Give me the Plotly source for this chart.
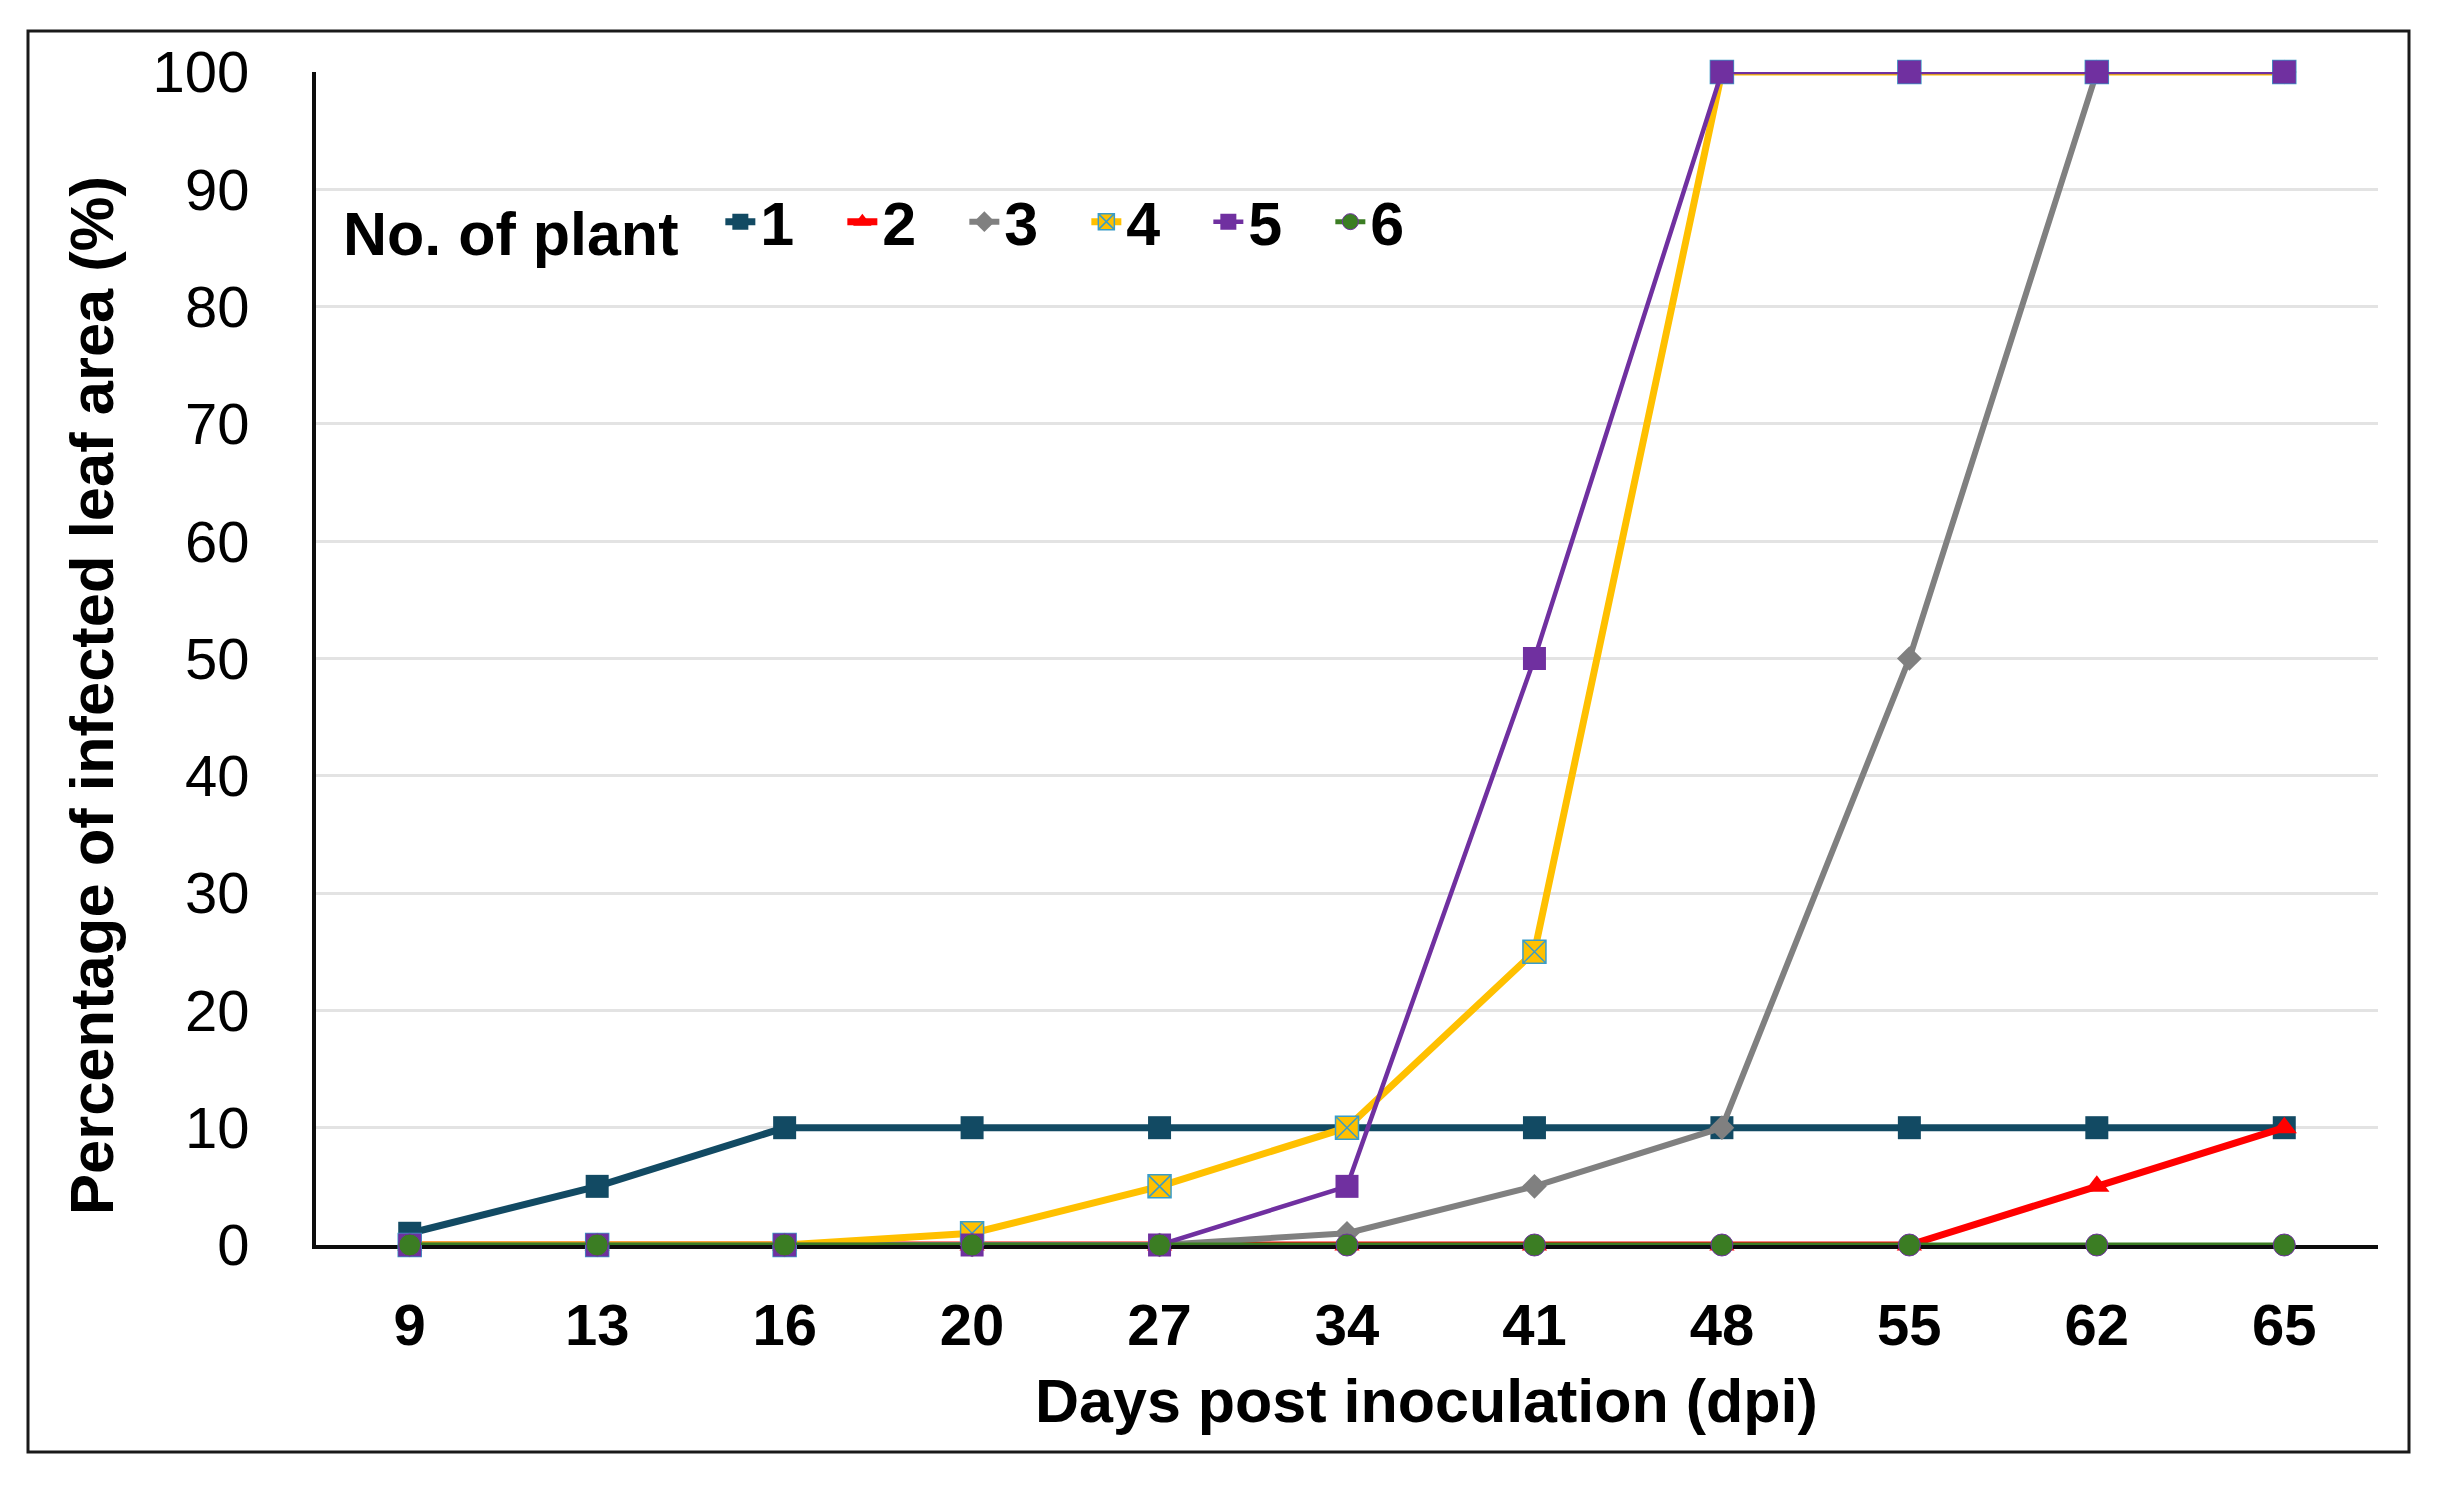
import plotly.graph_objects as go

# ---- data ----
dpi = ["9", "13", "16", "20", "27", "34", "41", "48", "55", "62", "65"]
plant_names = ["1", "2", "3", "4", "5", "6"]
plant1 = [1, 5, 10, 10, 10, 10, 10, 10, 10, 10, 10]
plant2 = [0, 0, 0, 0, 0, 0, 0, 0, 0, 5, 10]
plant3 = [0, 0, 0, 0, 0, 1, 5, 10, 50, 100, 100]
plant4 = [0, 0, 0, 1, 5, 10, 25, 100, 100, 100, 100]
plant5 = [0, 0, 0, 0, 0, 5, 50, 100, 100, 100, 100]
plant6 = [0, 0, 0, 0, 0, 0, 0, 0, 0, 0, 0]
y_ticks = [0, 10, 20, 30, 40, 50, 60, 70, 80, 90, 100]

series = [plant1, plant2, plant3, plant4, plant5, plant6]
styles = [
    dict(color="#124a63", width=7, symbol="square", size=23, mline="#124a63", mlw=0),
    dict(color="#ff0000", width=7, symbol="triangle-up", size=22, mline="#ff0000", mlw=0),
    dict(color="#808080", width=6, symbol="diamond", size=19, mline="#808080", mlw=0),
    dict(color="#ffc000", width=7, symbol="square-x", size=23, mline="#3a9cc8", mlw=1.5),
    dict(color="#7030a0", width=4.5, symbol="square", size=23, mline="#7030a0", mlw=0),
    dict(color="#3b7d23", width=5, symbol="circle", size=22, mline="#7030a0", mlw=1),
]

# page has an 8px body margin; figure coords = page coords - 8
OFF = 8
W, H = 2437 - 2 * OFF, 1499 - 2 * OFF
L, T = 316 - OFF, 72 - OFF
R = W - (2378 - OFF)
B = H - (1245 - OFF)
pw, ph = W - L - R, H - T - B

def px_x(x):
    return (x - OFF - L) / pw

def px_y(y):
    return (H - B - (y - OFF)) / ph

FONT = "Liberation Sans, Arial, sans-serif"

fig = go.Figure()
for name, vals, st in zip(plant_names, series, styles):
    fig.add_trace(go.Scatter(
        x=dpi, y=vals, name=name, mode="lines+markers",
        line=dict(color=st["color"], width=st["width"]),
        marker=dict(symbol=st["symbol"], size=st["size"], color=st["color"],
                    line=dict(color=st["mline"], width=st["mlw"])),
        cliponaxis=False,
    ))

fig.update_layout(
    width=W, height=H,
    margin=dict(l=L, r=R, t=T, b=B),
    paper_bgcolor="white", plot_bgcolor="white",
    font=dict(family=FONT, color="black"),
    showlegend=True,
    legend=dict(
        orientation="h", x=px_x(341), xanchor="left", y=px_y(222), yanchor="middle",
        title=dict(text="No. of plant&nbsp;&nbsp;", side="left",
                   font=dict(family=FONT, size=61, weight="bold", color="black")),
        font=dict(family=FONT, size=61, weight="bold", color="black"),
        bgcolor="rgba(0,0,0,0)", borderwidth=0,
        itemwidth=30, entrywidth=77, entrywidthmode="pixels",
        tracegroupgap=0,
    ),
    xaxis=dict(
        type="category", categoryorder="array", categoryarray=dpi,
        range=[-0.5, len(dpi) - 0.5],
        showgrid=False, zeroline=False,
        showline=True, linecolor="#0d0d0d", linewidth=4,
        ticks="", ticklabelstandoff=26,
        tickfont=dict(family=FONT, size=58, weight="bold", color="black"),
        layer="below traces", fixedrange=True,
    ),
    yaxis=dict(
        range=[0, 100], tickmode="array", tickvals=y_ticks,
        ticktext=[str(v) for v in y_ticks],
        showgrid=True, gridcolor="#e3e3e3", gridwidth=2.5,
        zeroline=False,
        showline=True, linecolor="#0d0d0d", linewidth=4,
        ticks="", ticklabelstandoff=51,
        tickfont=dict(family=FONT, size=58, color="black"),
        layer="below traces", fixedrange=True,
    ),
    annotations=[
        dict(text="<b>Days post inoculation (dpi)</b>", xref="paper", yref="paper",
             x=px_x(1426), y=px_y(1401), xanchor="center", yanchor="middle",
             showarrow=False, font=dict(family=FONT, size=61, color="black")),
        dict(text="<b>Percentage of infected leaf area (%)</b>", xref="paper", yref="paper",
             x=px_x(91), y=px_y(696), xanchor="center", yanchor="middle",
             textangle=-90, showarrow=False,
             font=dict(family=FONT, size=61.5, color="black")),
    ],
    shapes=[
        dict(type="rect", xref="paper", yref="paper",
             x0=px_x(28), x1=px_x(2409), y0=px_y(1452), y1=px_y(31),
             line=dict(color="#1a1a1a", width=3), fillcolor="rgba(0,0,0,0)",
             layer="below"),
    ],
)

fig.write_html("out.html")
